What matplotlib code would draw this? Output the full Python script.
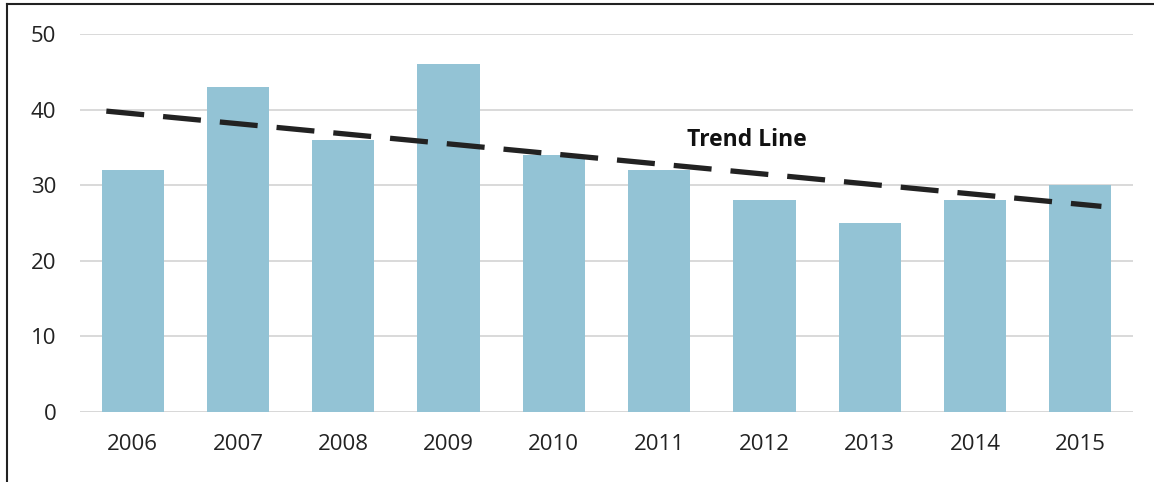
import numpy as np
import matplotlib.pyplot as plt
import matplotlib as mpl
from matplotlib.lines import Line2D

years = ['2006', '2007', '2008', '2009', '2010', '2011', '2012', '2013', '2014', '2015']
values = [32, 43, 36, 46, 34, 32, 28, 25, 28, 30]
trend_x = [-0.25, 9.2]
trend_y = [39.8, 27.2]

mpl.rcParams['font.family'] = ['Open Sans', 'DejaVu Sans']

fig = plt.figure(figsize=(11.54, 4.82), dpi=100)
ax = fig.add_axes([80 / 1154, 1 - 412 / 482, (1133 - 80) / 1154, (412 - 34) / 482])

x = np.arange(len(years))
ax.bar(x, values, width=0.59, color='#93c3d5', zorder=2)
ax.plot(trend_x, trend_y, color='#222222', lw=3.8, dashes=(7.2, 3.6), zorder=3)
ax.text(5.83, 36, 'Trend Line', fontsize=16.5, fontweight='bold', ha='center', va='center',
        color='#111111', zorder=4)

ax.set_xlim(-0.5, 9.5)
ax.set_ylim(0, 50)
ax.set_yticks([0, 10, 20, 30, 40, 50])
ax.set_xticks(x)
ax.set_xticklabels(years)
ax.grid(axis='y', color='#d9d9d9', lw=1.4, zorder=0)
for s in ax.spines.values():
    s.set_visible(False)
ax.axhline(0, color='#d0d0d0', lw=1.4, zorder=1)
ax.tick_params(axis='both', length=0, labelsize=16, colors='#222222')
ax.tick_params(axis='y', pad=17)
ax.tick_params(axis='x', pad=16)

# frame of the screenshot
fig.add_artist(Line2D([6.5 / 1154, 6.5 / 1154], [0, 1 - 4 / 482], transform=fig.transFigure,
                      color='#222222', lw=1.5))
fig.add_artist(Line2D([6.5 / 1154, 1], [1 - 4 / 482, 1 - 4 / 482], transform=fig.transFigure,
                      color='#222222', lw=1.5))

fig.savefig('out.png', dpi=100)
